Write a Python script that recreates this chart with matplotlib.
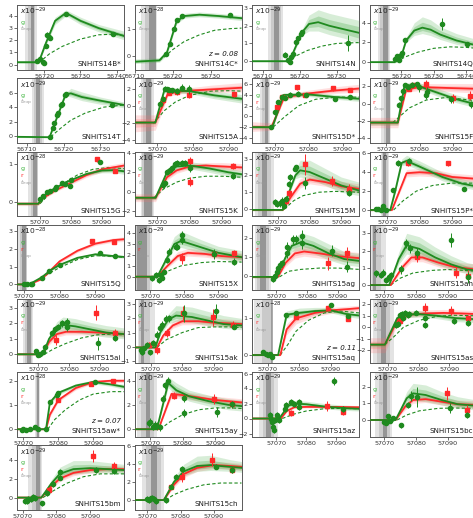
import matplotlib
matplotlib.use("Agg")
import matplotlib.pyplot as plt

########## DATA ##########
names = ["SNHiTS14B*", "SNHiTS14C*", "SNHiTS14N", "SNHiTS14Q",
         "SNHiTS14T", "SNHiTS15A", "SNHiTS15D*", "SNHiTS15F",
         "SNHiTS15G", "SNHiTS15K", "SNHiTS15M", "SNHiTS15P*",
         "SNHiTS15Q", "SNHiTS15X", "SNHiTS15ag", "SNHiTS15ah",
         "SNHiTS15ai", "SNHiTS15ak", "SNHiTS15aq", "SNHiTS15as",
         "SNHiTS15aw*", "SNHiTS15ay", "SNHiTS15az", "SNHiTS15bc",
         "SNHiTS15bm", "SNHiTS15ch"]
redshift = {1: "0.08", 18: "0.11", 20: "0.07"}
expo = [-29, -28, -29, -29, -29, -29, -29, -29, -28, -29, -29, -29, -28,
        -29, -29, -29, -29, -29, -28, -29, -28, -29, -29, -29, -29, -29]

xlims = [(56712.5, 56742), (56710, 56738), (56707, 56736.1), (56710.2, 56743.2),
         (56707.3, 56736.5), (57063.7, 57093.5), (57063.3, 57094.7), (57065, 57097.1),
         (57062.6, 57097.1), (57063, 57096), (57061.8, 57095.6), (57064.6, 57097.5),
         (57068.1, 57098), (57065.3, 57096.8), (57062.1, 57096.8), (57065.3, 57099),
         (57063.1, 57097.8), (57064.9, 57098.7), (57065, 57099), (57064, 57098.8),
         (57068.2, 57098.8), (57065.1, 57098.1), (57061.9, 57097.6), (57065.3, 57099),
         (57068.3, 57100), (57066.2, 57098.3)]
ylims = [(-0.4, 4.9), (-0.49, 1.91), (-0.47, 3.17), (-0.75, 5.8),
         (-0.94, 7.97), (-4.3, 3.3), (-4.95, 7.1), (-4.55, 2.9),
         (-0.38, 1.31), (-2.5, 4.1), (-0.43, 3.4), (-0.67, 6.17),
         (-0.3, 3.34), (-1.2, 4.75), (-0.73, 2.7), (-0.27, 3.47),
         (-0.57, 3.59), (-1.16, 3.4), (-0.22, 1.54), (-3.1, 2.49),
         (-0.3, 2.36), (-0.6, 4.7), (-2.4, 6.2), (-0.99, 2.88),
         (-1.3, 5.5), (-1.1, 6.1)]
yticks = [[0, 1, 2, 3, 4], [0, 1], [0, 1, 2, 3], [0, 2, 4],
          [0, 2, 4, 6], [-4, -2, 0, 2], [-4, -2, 0, 2, 4, 6], [-4, -2, 0, 2],
          [0, 1], [-2, 0, 2, 4], [0, 1, 2, 3], [0, 2, 4, 6],
          [0, 1, 2, 3], [0, 1, 2, 3, 4], [0, 1, 2], [0, 1, 2, 3],
          [0, 1, 2, 3], [-1, 0, 1, 2, 3], [0, 1], [-2, -1, 0, 1, 2],
          [0, 1, 2], [0, 2, 4], [-2, 0, 2, 4, 6], [0, 1, 2],
          [0, 2, 4], [0, 2, 4, 6]]
xticks_14 = [56710, 56720, 56730, 56740]
xticks_15 = [57070, 57080, 57090]

# explosion-time shading: light band (lo, hi), dark band (lo, hi)
texp = [(56714.8, 56718, 56716.3, 56717.1), (56711.6, 56716, 56713.9, 56715.5),
        (56711.3, 56715.4, 56712.9, 56714.3), (56712.7, 56716.4, 56714.3, 56715.8),
        (56711.4, 56714.6, 56712.5, 56713.6), (57065.4, 57069, 57066.9, 57068.2),
        (57065.6, 57068.5, 57067.1, 57068), (57068.5, 57071.5, 57070, 57071),
        (57066.2, 57069.5, 57067.8, 57069.1), (57064.9, 57069, 57066, 57068.5),
        (57062.6, 57068.9, 57064.9, 57066.5), (57068, 57070.5, 57068.7, 57069.8),
        (57068.5, 57071, 57069.5, 57070.7), (57064.5, 57070.5, 57066, 57069),
        (57063, 57068.4, 57064.6, 57066.8), (57065.5, 57070.5, 57066.5, 57067.5),
        (57065.1, 57068.4, 57066.2, 57067.8), (57066, 57071.5, 57066.8, 57068),
        (57065.5, 57071, 57071, 57071.7), (57065, 57072, 57067.9, 57069.5),
        (57073.3, 57074.8, 57073.8, 57074.4), (57066, 57072, 57068.5, 57070),
        (57064.4, 57070.5, 57066.6, 57068.3), (57067, 57072.5, 57069.5, 57070.7),
        (57071.7, 57075.6, 57073.8, 57075.2), (57068.5, 57075, 57071, 57073)]

# g-band photometry
g_x = [[56718.1, 56718.9, 56719.6, 56720.0, 56720.4, 56720.7, 56721.3, 56721.6, 56726.1, 56739.1],
       [56718.2, 56719.3, 56720.3, 56721.2, 56722.5, 56735.1],
       [56716.1, 56716.8, 56717.3, 56717.7, 56718.2, 56719.1, 56719.4, 56720.2, 56720.5, 56733.0],
       [56718.2, 56718.8, 56719.3, 56719.8, 56720.3, 56721.0, 56732.7, 56740.3],
       [56716.2, 56717.1, 56717.5, 56718.2, 56718.4, 56719.3, 56719.5, 56720.4, 56720.6, 56733.3],
       [57070.9, 57071.6, 57072.1, 57072.8, 57073.4, 57074.2, 57075.6, 57076.9, 57079.0],
       [57068.8, 57070.0, 57071.0, 57072.0, 57073.0, 57074.4, 57076.9, 57079.1, 57087.6, 57092.1],
       [57073.8, 57074.3, 57075.0, 57075.5, 57076.5, 57077.7, 57079.3, 57079.7, 57082.0, 57082.3, 57089.5, 57095.5],
       [57070.0, 57071.1, 57072.2, 57073.2, 57074.8, 57075.2, 57077.0, 57078.1, 57079.7, 57079.9, 57089.4],
       [57071.7, 57072.3, 57073.1, 57073.8, 57074.6, 57075.6, 57076.1, 57077.7, 57078.7, 57080.2, 57093.5],
       [57069.2, 57069.7, 57070.8, 57071.3, 57071.8, 57072.4, 57073.4, 57073.9, 57075.5, 57075.8, 57078.5, 57092.3],
       [57066.7, 57067.2, 57068.2, 57068.7, 57069.7, 57071.8, 57073.3, 57076.6, 57093.8],
       [57070.0, 57070.9, 57071.9, 57072.3, 57075.1, 57077.0, 57080.1, 57091.4, 57095.6],
       [57070.5, 57071.5, 57072.5, 57073.0, 57073.5, 57074.0, 57074.9, 57075.4, 57077.4, 57077.9, 57079.3, 57079.3, 57088.6, 57094.5],
       [57069.0, 57069.6, 57070.1, 57070.6, 57071.2, 57071.7, 57073.6, 57073.6, 57075.5, 57076.3, 57078.4, 57078.4, 57087.9, 57092.8],
       [57067.4, 57069.0, 57069.5, 57070.6, 57071.4, 57072.2, 57075.3, 57076.9, 57078.0, 57080.4, 57091.1, 57096.4],
       [57069.3, 57070.0, 57070.6, 57071.6, 57072.2, 57074.3, 57075.4, 57076.5, 57077.6, 57079.2, 57079.2, 57089.5, 57094.9],
       [57066.9, 57067.4, 57068.0, 57069.0, 57069.8, 57070.9, 57072.1, 57073.0, 57073.7, 57074.9, 57075.8, 57080.5, 57090.8, 57096.3],
       [57068.5, 57069.6, 57070.1, 57070.6, 57071.2, 57075.9, 57079.1, 57090.2, 57095.5],
       [57072.7, 57073.2, 57073.8, 57074.6, 57074.8, 57075.4, 57076.5, 57077.0, 57079.2, 57081.9, 57081.9, 57091.4, 57095.9],
       [57069.5, 57070.0, 57070.9, 57071.9, 57073.3, 57074.3, 57076.5, 57077.6, 57079.5, 57080.0, 57090.5],
       [57069.5, 57070.0, 57070.8, 57071.5, 57072.0, 57073.1, 57073.8, 57074.6, 57075.5, 57080.3, 57080.3, 57090.6, 57095.3],
       [57068.0, 57068.3, 57068.5, 57068.9, 57069.1, 57069.7, 57070.2, 57070.8, 57073.0, 57073.2, 57075.0, 57075.8, 57077.7, 57077.7, 57089.4, 57092.4],
       [57070.0, 57070.5, 57071.0, 57071.6, 57072.6, 57075.3, 57077.4, 57078.4, 57080.3, 57090.8, 57096.0],
       [57070.7, 57071.2, 57071.7, 57072.5, 57073.0, 57073.5, 57075.6, 57077.1, 57079.1, 57080.9, 57081.1, 57091.7, 57096.9],
       [57069.8, 57070.5, 57071.0, 57071.5, 57072.0, 57072.5, 57075.5, 57077.0, 57078.5, 57080.5, 57090.5, 57095.5]]
g_y = [[0.3, 0.5, 0.2, 0.15, 1.56, 2.45, 2.3, 2.2, 4.2, 2.5],
       [0.07, 0.47, 1.0, 1.37, 1.51, 1.54],
       [0.36, 0.04, -0.02, 0.23, 0.42, 1.09, 1.31, 1.56, 1.62, 1.05],
       [0.34, 0.58, 0.17, 0.68, 0.92, 2.22, 3.86, 1.88],
       [-0.19, 1.17, 1.78, 2.91, 3.19, 4.32, 4.46, 5.63, 5.87, 4.3],
       [0.32, 0.93, 2.1, 2.0, 1.94, 1.89, 1.81, 2.2, 2.0],
       [-1.9, 0.77, 2.67, 3.63, 3.44, 4.08, 4.27, 3.95, 3.3, 3.63],
       [-0.16, 0.59, 1.45, 2.08, 1.96, 2.16, 2.2, 1.88, 0.98, 1.37, 0.51, -0.08],
       [0.07, 0.16, 0.25, 0.29, 0.34, 0.38, 0.49, 0.47, 0.41, 0.57, 1.04],
       [0.7, 0.88, 2.04, 2.28, 2.46, 2.81, 2.98, 2.92, 2.98, 2.46, 1.65],
       [0.4, 0.3, 0.34, 0.5, 0.2, 0.6, 1.49, 1.89, 2.39, 2.49, 1.55, 0.96],
       [0.1, 0.1, 0.0, 0.42, 0.0, 2.07, 5.0, 5.2, 2.19],
       [0.0, 0.02, 0.02, 0.02, 0.38, 0.75, 1.08, 1.75, 1.6],
       [-0.15, 0.16, -0.3, 0.16, -0.1, 0.46, 1.54, 2.31, 2.77, 2.77, 3.85, 3.38, 2.1, 1.4],
       [-0.18, 0.0, 0.23, 0.41, 0.59, 0.67, 1.2, 1.56, 1.95, 1.95, 2.13, 1.74, 1.35, 0.5],
       [0.68, 0.58, 0.72, 0.29, 0.44, 0.58, 0.91, 2.42, 2.13, 1.84, 2.61, 0.44],
       [0.21, -0.05, 0.0, 0.17, 0.49, 1.35, 1.6, 1.78, 1.99, 2.1, 1.78, 0.7, 1.07],
       [-0.23, -0.4, -0.12, 0.12, -0.4, 0.24, 0.83, 1.3, 1.54, 1.97, 2.01, 2.37, 2.53, 1.42],
       [0.07, 0.02, 0.0, 0.04, -0.04, 1.09, 1.15, 1.36, 1.07],
       [0.2, 0.29, 1.06, 1.14, 0.77, 1.28, 1.06, 1.14, 1.28, 0.77, 0.2, 0.57, 0.4],
       [-0.03, 0.0, -0.03, 0.0, 0.08, 0.0, 0.0, 1.14, 1.41, 1.5, 1.96],
       [0.48, 0.62, 0.2, 0.34, 0.26, 0.14, 2.5, 3.6, 4.0, 2.54, 1.34, 1.4, 2.05],
       [0.44, 0.0, -0.44, -1.11, -1.56, -0.22, 0.44, -0.22, 1.33, 1.78, 2.22, 2.0, 2.22, 1.56, 5.0, 1.33],
       [-0.1, -0.16, 0.24, -0.04, 0.1, -0.3, 0.9, 1.44, 1.36, 0.7, 0.3],
       [-0.33, -0.36, -0.15, -0.18, 0.11, -0.07, -0.61, 0.47, 1.38, 2.1, 2.72, 2.9, 2.83],
       [0.1, 0.0, 0.19, 0.26, 0.1, -0.12, 0.0, 1.5, 2.62, 3.48, 3.74, 3.37]]
g_err = [[0.15, 0.2, 0.15, 0.1, 0.15, 0.2, 0.2, 0.15, 0.1, 0.1],
         [0.03, 0.04, 0.04, 0.04, 0.03, 0.03],
         [0.15, 0.08, 0.08, 0.08, 0.1, 0.1, 0.1, 0.08, 0.08, 0.45],
         [0.2, 0.2, 0.15, 0.2, 0.2, 0.25, 0.6, 0.15],
         [0.15, 0.2, 0.2, 0.2, 0.2, 0.2, 0.2, 0.2, 0.2, 0.2],
         [0.3, 0.3, 0.3, 0.3, 0.3, 0.3, 0.4, 0.4, 0.5],
         [0.3, 0.4, 0.4, 0.4, 0.4, 0.4, 0.4, 0.4, 0.4, 0.3],
         [0.3, 0.3, 0.3, 0.3, 0.3, 0.3, 0.3, 0.5, 0.5, 0.5, 0.4, 0.4],
         [0.03, 0.03, 0.03, 0.03, 0.03, 0.03, 0.03, 0.03, 0.04, 0.04, 0.06],
         [0.3, 0.3, 0.3, 0.3, 0.3, 0.3, 0.3, 0.3, 0.3, 0.4, 0.3],
         [0.2, 0.2, 0.2, 0.2, 0.2, 0.2, 0.2, 0.2, 0.15, 0.15, 0.35, 0.2],
         [0.2, 0.2, 0.2, 0.2, 0.2, 0.2, 0.3, 0.3, 0.2],
         [0.04, 0.04, 0.04, 0.04, 0.04, 0.04, 0.04, 0.04, 0.04],
         [0.25, 0.25, 0.25, 0.25, 0.25, 0.25, 0.3, 0.3, 0.3, 0.3, 0.4, 0.4, 0.5, 0.3],
         [0.15, 0.15, 0.2, 0.2, 0.2, 0.2, 0.25, 0.25, 0.25, 0.25, 0.3, 0.3, 0.3, 0.3],
         [0.2, 0.2, 0.2, 0.2, 0.2, 0.2, 0.25, 0.25, 0.25, 0.3, 0.4, 0.3],
         [0.15, 0.15, 0.15, 0.15, 0.2, 0.2, 0.2, 0.2, 0.2, 0.25, 0.25, 0.4, 0.2],
         [0.2, 0.2, 0.2, 0.2, 0.2, 0.2, 0.25, 0.25, 0.25, 0.25, 0.25, 0.6, 0.5, 0.2],
         [0.03, 0.03, 0.03, 0.03, 0.03, 0.03, 0.03, 0.03, 0.03],
         [0.25, 0.25, 0.25, 0.25, 0.25, 0.25, 0.25, 0.25, 0.25, 0.25, 0.25, 0.25, 0.25],
         [0.04, 0.04, 0.04, 0.04, 0.04, 0.04, 0.04, 0.04, 0.04, 0.04, 0.04],
         [0.3, 0.3, 0.3, 0.3, 0.3, 0.3, 0.3, 0.3, 0.3, 0.3, 0.3, 0.4, 0.3],
         [0.4, 0.4, 0.4, 0.4, 0.4, 0.4, 0.4, 0.4, 0.4, 0.4, 0.4, 0.4, 0.4, 0.4, 0.5, 0.4],
         [0.15, 0.15, 0.15, 0.15, 0.15, 0.15, 0.2, 0.3, 0.6, 0.3, 0.2],
         [0.3, 0.3, 0.3, 0.3, 0.3, 0.3, 0.3, 0.3, 0.3, 0.3, 0.3, 0.3, 0.3],
         [0.3, 0.3, 0.3, 0.3, 0.3, 0.3, 0.3, 0.3, 0.3, 0.3, 0.3, 0.3]]

# r-band photometry (the 2014 objects only have g)
r_x = [[], [], [], [], [],
       [57071.6, 57073.4, 57075.6, 57079.0, 57091.3],
       [57070.5, 57072.0, 57076.4, 57078.8, 57087.0, 57092.1],
       [57076.7, 57078.0, 57082.0, 57090.0, 57095.0],
       [57088.3, 57094.2],
       [57080.2, 57080.2, 57093.5],
       [57072.4, 57073.4, 57078.5, 57087.1, 57092.3],
       [57076.4, 57088.7],
       [57089.1, 57095.1],
       [57079.3, 57088.6, 57094.5],
       [57086.8, 57092.8],
       [57080.4, 57092.7, 57096.4],
       [57075.9, 57088.7, 57094.9],
       [57069.5, 57071.9, 57075.1, 57080.3, 57089.8, 57096.0],
       [57079.1, 57089.1, 57095.5],
       [57073.8, 57081.9, 57090.6, 57095.9],
       [57080.0, 57089.5, 57095.7],
       [57077.2, 57089.6, 57095.3],
       [57075.0, 57086.9, 57092.4],
       [57089.8, 57096.0],
       [57077.9, 57090.7, 57096.9],
       [57077.0, 57080.5, 57089.5, 57095.5]]
r_y = [[], [], [], [], [],
       [0.8, 1.6, 1.7, 1.33, 1.41],
       [1.72, 3.63, 5.42, 3.95, 5.23, 4.9],
       [1.7, 2.1, 2.2, 0.6, 0.9],
       [1.11, 0.8],
       [3.16, 1.06, 2.63],
       [0.5, 0.94, 2.65, 1.69, 1.19],
       [4.94, 4.94],
       [2.45, 2.4],
       [1.69, 2.1, 2.2],
       [0.67, 1.2],
       [1.65, 0.72, 0.55],
       [0.92, 2.68, 1.35],
       [0.12, -0.23, 0.95, 2.37, 2.08, 1.54],
       [1.04, 1.27, 0.98],
       [0.57, 1.71, 1.43, 0.77],
       [1.2, 1.86, 1.99],
       [2.76, 2.48, 2.05],
       [0.75, 1.64, 0.9],
       [1.6, 0.6],
       [0.83, 4.38, 3.3],
       [1.5, 2.62, 4.5, 3.3]]
r_err = [[], [], [], [], [],
         [0.3, 0.3, 0.3, 0.3, 0.3],
         [0.4, 0.4, 0.4, 0.4, 0.4, 0.4],
         [0.3, 0.3, 0.5, 0.5, 0.5],
         [0.07, 0.04],
         [0.4, 0.5, 0.3],
         [0.2, 0.2, 0.6, 0.3, 0.3],
         [0.3, 0.3],
         [0.06, 0.06],
         [0.5, 0.4, 0.3],
         [0.35, 0.35],
         [0.3, 0.3, 0.3],
         [0.3, 0.5, 0.3],
         [0.2, 0.3, 0.3, 0.5, 0.6, 0.3],
         [0.03, 0.04, 0.03],
         [0.3, 0.4, 0.4, 0.3],
         [0.05, 0.05, 0.05],
         [0.3, 0.4, 0.3],
         [0.4, 0.7, 0.4],
         [0.4, 0.3],
         [0.3, 0.6, 0.4],
         [0.3, 0.6, 0.7, 0.3]]

# model light curves: (mjd, best, fan low, fan high)
g_fit = [
    [(56712.5, 0.2, 0.12, 0.3), (56718.5, 0.2, 0.1, 0.35), (56720.5, 1.8, 1.6, 2.0), (56723, 3.6, 3.3, 3.9), (56726, 4.25, 4.0, 4.5), (56730, 3.6, 3.3, 3.9), (56735, 3.0, 2.7, 3.3), (56742, 2.35, 2.05, 2.75)],
    [(56710, -0.2, -0.27, -0.1), (56716.5, -0.15, -0.22, -0.05), (56718.5, 0.15, 0.05, 0.25), (56721, 1.3, 1.2, 1.4), (56723, 1.5, 1.42, 1.6), (56727, 1.55, 1.47, 1.65), (56732, 1.5, 1.42, 1.6), (56738, 1.42, 1.33, 1.52)],
    [(56707, 0.0, -0.05, 0.05), (56716.5, 0.0, -0.05, 0.05), (56717.5, 0.15, 0.05, 0.25), (56720.5, 1.6, 1.45, 1.75), (56722.5, 2.1, 1.7, 2.6), (56725, 2.2, 1.7, 2.9), (56728, 2.0, 1.5, 2.7), (56732, 1.8, 1.3, 2.5), (56736.1, 1.6, 1.0, 2.3)],
    [(56710.2, 0.0, -0.05, 0.05), (56718, 0.0, -0.1, 0.1), (56720.3, 0.9, 0.8, 1.0), (56721.5, 2.2, 2.0, 2.5), (56724, 3.2, 2.7, 4.0), (56726.5, 3.5, 2.9, 4.6), (56729, 3.3, 2.7, 4.3), (56732, 2.8, 2.3, 3.6), (56737, 2.2, 1.8, 2.9), (56743.2, 1.7, 1.4, 2.3)],
    [(56707.3, -0.1, -0.2, 0.0), (56716.2, -0.15, -0.25, -0.05), (56720.6, 5.8, 5.6, 6.0), (56722, 5.9, 5.4, 6.6), (56725, 5.4, 4.9, 6.1), (56730, 4.9, 4.4, 5.4), (56736.5, 4.3, 3.9, 4.7)],
    [(57063.7, -1.9, -2.1, -1.7), (57069.5, -1.9, -2.1, -1.7), (57072, 1.9, 1.6, 2.2), (57079, 1.8, 1.5, 2.2), (57086, 1.3, 0.9, 1.8), (57093.5, 0.9, 0.4, 1.4)],
    [(57063.3, -2, -2.3, -1.7), (57069.3, -2, -2.3, -1.7), (57072.5, 4.0, 3.6, 4.4), (57080, 4.1, 3.7, 4.6), (57088, 3.6, 3.2, 4.1), (57094.7, 3.3, 2.8, 3.8)],
    [(57065, -2.2, -2.5, -1.9), (57073.5, -2.2, -2.5, -1.9), (57075.5, 2.1, 1.8, 2.4), (57079, 2.1, 1.8, 2.5), (57085, 1.3, 0.9, 1.8), (57091, 0.5, 0.1, 1.0), (57097.1, -0.1, -0.5, 0.4)],
    [(57062.6, -0.05, -0.08, -0.02), (57069.5, -0.05, -0.08, -0.02), (57071, 0.15, 0.12, 0.18), (57075, 0.37, 0.34, 0.4), (57080, 0.57, 0.54, 0.6), (57085, 0.73, 0.69, 0.78), (57090, 0.82, 0.76, 0.88), (57094, 0.83, 0.76, 0.92), (57097.1, 0.8, 0.72, 0.9)],
    [(57063, -0.6, -0.8, -0.4), (57069.5, -0.6, -0.8, -0.4), (57073, 2.0, 1.7, 2.3), (57076, 2.6, 2.3, 2.95), (57080, 2.7, 2.35, 3.1), (57086, 2.4, 2.0, 2.8), (57092, 2.0, 1.6, 2.4), (57096, 1.8, 1.4, 2.2)],
    [(57061.8, -0.05, -0.1, 0.0), (57071.5, -0.05, -0.1, 0.0), (57073.5, 1.0, 0.85, 1.2), (57075.5, 2.0, 1.8, 2.3), (57077, 2.3, 1.9, 2.9), (57080, 2.2, 1.8, 2.9), (57085, 1.8, 1.4, 2.4), (57090, 1.4, 1.0, 1.9), (57095.6, 1.1, 0.8, 1.6)],
    [(57064.6, 0.0, -0.1, 0.1), (57071, 0.0, -0.1, 0.1), (57072.5, 2.0, 1.8, 2.3), (57074.5, 5.0, 4.7, 5.4), (57076, 5.2, 4.8, 5.8), (57080, 4.6, 4.2, 5.2), (57087, 3.5, 3.1, 4.0), (57093, 2.8, 2.4, 3.3), (57097.5, 2.5, 2.1, 3.0)],
    [(57068.1, 0, -0.02, 0.02), (57071.5, 0, -0.02, 0.02), (57075, 0.4, 0.36, 0.44), (57077.5, 0.8, 0.75, 0.85), (57080, 1.1, 1.05, 1.15), (57085, 1.5, 1.45, 1.56), (57090, 1.7, 1.63, 1.77), (57095, 1.6, 1.53, 1.68), (57098, 1.55, 1.47, 1.63)],
    [(57065.3, 0, -0.1, 0.1), (57072, 0, -0.1, 0.1), (57074.5, 1.5, 1.2, 1.9), (57077, 3.0, 2.6, 3.7), (57079, 3.3, 2.7, 4.2), (57085, 2.7, 2.2, 3.4), (57090, 2.2, 1.7, 2.8), (57096.8, 1.8, 1.3, 2.4)],
    [(57062.1, -0.05, -0.1, 0.0), (57070, -0.05, -0.1, 0.0), (57073, 1.0, 0.8, 1.2), (57075, 1.6, 1.3, 1.95), (57078, 1.8, 1.4, 2.3), (57082, 1.6, 1.2, 2.1), (57087, 1.2, 0.85, 1.7), (57092, 0.9, 0.6, 1.3), (57096.8, 0.8, 0.5, 1.2)],
    [(57065.3, 0, -0.03, 0.03), (57071.5, 0, -0.03, 0.03), (57074.5, 1.5, 1.2, 1.9), (57077, 2.3, 1.8, 3.0), (57081, 2.1, 1.6, 2.8), (57086, 1.6, 1.2, 2.2), (57091, 1.2, 0.9, 1.7), (57096, 0.9, 0.65, 1.3), (57099, 0.85, 0.6, 1.2)],
    [(57063.1, 0, -0.05, 0.05), (57071.5, 0, -0.05, 0.05), (57073.5, 1.0, 0.8, 1.2), (57076, 1.7, 1.4, 2.1), (57078, 1.9, 1.5, 2.4), (57082, 1.8, 1.4, 2.3), (57087, 1.6, 1.25, 2.05), (57092, 1.4, 1.1, 1.85), (57097.8, 1.3, 1.0, 1.7)],
    [(57064.9, -0.05, -0.1, 0.0), (57071.5, -0.05, -0.1, 0.0), (57073, 1.0, 0.8, 1.2), (57075.5, 1.9, 1.6, 2.3), (57078, 2.2, 1.8, 2.9), (57083, 2.1, 1.7, 2.8), (57088, 1.85, 1.5, 2.5), (57093, 1.6, 1.3, 2.2), (57098.7, 1.5, 1.2, 2.0)],
    [(57065, 0, -0.02, 0.02), (57073.3, 0, -0.02, 0.02), (57076, 1.1, 1.0, 1.2), (57080, 1.15, 1.07, 1.28), (57085, 1.2, 1.12, 1.3), (57090, 1.22, 1.15, 1.3), (57095, 1.12, 1.05, 1.2), (57099, 1.08, 1.0, 1.16)],
    [(57064, -1.5, -1.7, -1.3), (57069, -1.5, -1.7, -1.3), (57073, 0.8, 0.5, 1.1), (57076, 1.1, 0.85, 1.4), (57080, 1.15, 0.9, 1.45), (57086, 1.0, 0.75, 1.3), (57092, 0.8, 0.5, 1.1), (57098.8, 0.7, 0.4, 1.0)],
    [(57068.2, 0, -0.02, 0.02), (57076.5, 0, -0.02, 0.02), (57077.6, 1.1, 1.0, 1.2), (57080, 1.5, 1.42, 1.58), (57085, 1.8, 1.72, 1.88), (57090, 1.95, 1.87, 2.03), (57095, 1.85, 1.77, 1.93), (57098.8, 1.75, 1.65, 1.85)],
    [(57065.1, 0, -0.05, 0.05), (57072, 0, -0.05, 0.05), (57075.5, 3.8, 3.4, 4.3), (57078, 3.2, 2.8, 3.8), (57082, 2.7, 2.3, 3.2), (57088, 2.3, 1.9, 2.8), (57094, 2.0, 1.6, 2.5), (57098.1, 1.9, 1.5, 2.4)],
    [(57061.9, 0, -0.1, 0.1), (57071, 0, -0.1, 0.1), (57074, 1.7, 1.4, 2.0), (57076, 2.0, 1.7, 2.4), (57080, 1.9, 1.6, 2.3), (57086, 1.6, 1.3, 2.0), (57092, 1.4, 1.1, 1.8), (57097.6, 1.3, 1.0, 1.7)],
    [(57065.3, 0, -0.03, 0.03), (57073.5, 0, -0.03, 0.03), (57077, 1.3, 1.0, 1.7), (57079, 1.6, 1.2, 2.2), (57083, 1.5, 1.1, 2.1), (57088, 1.2, 0.9, 1.7), (57093, 0.95, 0.7, 1.4), (57099, 0.85, 0.6, 1.2)],
    [(57068.3, 0, -0.05, 0.05), (57075.5, 0, -0.05, 0.05), (57078.5, 1.5, 1.2, 1.9), (57081, 2.5, 2.1, 3.2), (57085, 3.0, 2.5, 3.9), (57090, 3.1, 2.6, 3.9), (57095, 3.0, 2.6, 3.7), (57100, 2.9, 2.5, 3.5)],
    [(57066.2, 0, -0.05, 0.05), (57075, 0, -0.05, 0.05), (57078, 2.0, 1.7, 2.5), (57081, 3.2, 2.7, 4.0), (57085, 3.8, 3.2, 4.9), (57089, 3.9, 3.3, 5.0), (57095, 3.7, 3.2, 4.5), (57098.3, 3.6, 3.1, 4.3)]]

r_fit = [None, None, None, None, None,
    [(57063.7, -1.9, -3.0, -1.0), (57069.5, -1.9, -2.8, -1.0), (57073, 1.5, 1.2, 1.9), (57077, 1.8, 1.5, 2.1), (57085, 2.0, 1.6, 2.5), (57093.5, 2.2, 1.7, 2.8)],
    [(57063.3, -2, -2.8, -1.0), (57069, -2, -2.6, -1.2), (57072.5, 3.2, 2.8, 3.7), (57075, 3.8, 3.4, 4.3), (57080, 4.3, 3.9, 4.9), (57087, 4.8, 4.3, 5.5), (57094.7, 5.2, 4.5, 6.0)],
    [(57065, -2.2, -2.8, -1.6), (57073.5, -2.2, -2.8, -1.6), (57076, 1.6, 1.3, 2.0), (57080, 1.9, 1.5, 2.3), (57088, 1.8, 1.4, 2.3), (57097.1, 1.7, 1.2, 2.3)],
    [(57062.6, -0.05, -0.1, 0.0), (57069.5, -0.05, -0.1, 0.0), (57071, 0.1, 0.06, 0.14), (57075, 0.3, 0.26, 0.34), (57080, 0.5, 0.45, 0.55), (57085, 0.7, 0.64, 0.77), (57090, 0.85, 0.78, 0.93), (57097.1, 0.95, 0.87, 1.03)],
    [(57063, -0.6, -1.0, -0.2), (57069.5, -0.6, -1.0, -0.2), (57073, 1.5, 1.2, 1.8), (57076, 2.2, 1.9, 2.5), (57080, 2.6, 2.3, 2.9), (57085, 2.7, 2.4, 3.0), (57090, 2.6, 2.3, 3.0), (57096, 2.5, 2.1, 2.9)],
    [(57061.8, -0.05, -0.1, 0.0), (57071.5, -0.05, -0.1, 0.0), (57074, 0.7, 0.5, 0.9), (57077, 1.5, 1.25, 1.8), (57080, 1.75, 1.5, 2.05), (57085, 1.6, 1.35, 1.9), (57090, 1.35, 1.1, 1.65), (57095.6, 1.2, 0.95, 1.5)],
    [(57064.6, 0.0, -0.1, 0.1), (57071.5, 0.0, -0.1, 0.1), (57076, 3.9, 3.5, 4.3), (57080, 4.0, 3.6, 4.4), (57085, 3.9, 3.5, 4.3), (57090, 3.5, 3.1, 3.9), (57097.5, 3.3, 2.9, 3.7)],
    [(57068.1, 0, -0.02, 0.02), (57071.5, 0, -0.02, 0.02), (57075, 0.3, 0.25, 0.35), (57078, 0.9, 0.82, 0.98), (57080, 1.3, 1.2, 1.4), (57085, 1.9, 1.8, 2.0), (57090, 2.3, 2.2, 2.42), (57095, 2.5, 2.38, 2.62), (57098, 2.55, 2.42, 2.68)],
    [(57065.3, 0, -0.1, 0.1), (57072, 0, -0.1, 0.1), (57075, 1.0, 0.8, 1.3), (57078, 1.9, 1.6, 2.3), (57081, 2.2, 1.9, 2.6), (57086, 2.1, 1.8, 2.5), (57091, 1.9, 1.6, 2.3), (57096.8, 1.8, 1.5, 2.2)],
    [(57062.1, -0.05, -0.1, 0.0), (57070.5, -0.05, -0.1, 0.0), (57073, 0.7, 0.5, 0.9), (57076, 1.2, 0.95, 1.5), (57079, 1.3, 1.05, 1.6), (57084, 1.2, 0.95, 1.5), (57090, 1.05, 0.8, 1.35), (57096.8, 0.95, 0.7, 1.25)],
    [(57065.3, 0, -0.03, 0.03), (57072, 0, -0.03, 0.03), (57075.5, 1.0, 0.8, 1.25), (57078.5, 1.6, 1.35, 1.9), (57082, 1.6, 1.35, 1.9), (57087, 1.3, 1.05, 1.6), (57092, 1.05, 0.8, 1.35), (57099, 0.9, 0.65, 1.2)],
    [(57063.1, 0, -0.05, 0.05), (57071.5, 0, -0.05, 0.05), (57073.5, 0.8, 0.6, 1.0), (57076, 1.3, 1.1, 1.55), (57079, 1.45, 1.25, 1.7), (57084, 1.45, 1.25, 1.7), (57090, 1.4, 1.2, 1.65), (57097.8, 1.3, 1.1, 1.55)],
    [(57064.9, -0.05, -0.1, 0.0), (57072, -0.05, -0.1, 0.0), (57074, 0.8, 0.6, 1.0), (57077, 1.5, 1.3, 1.8), (57080, 1.8, 1.55, 2.1), (57085, 1.8, 1.55, 2.1), (57090, 1.7, 1.45, 2.0), (57098.7, 1.6, 1.35, 1.9)],
    [(57065, 0, -0.02, 0.02), (57074, 0, -0.02, 0.02), (57076, 0.7, 0.55, 0.85), (57079, 1.0, 0.85, 1.12), (57085, 1.15, 1.05, 1.25), (57090, 1.22, 1.13, 1.3), (57095, 1.25, 1.17, 1.33), (57099, 1.28, 1.2, 1.36)],
    [(57064, -1.5, -2.2, -0.9), (57069, -1.5, -2.2, -0.9), (57073.5, 0.8, 0.5, 1.1), (57077, 1.1, 0.85, 1.4), (57082, 1.2, 0.95, 1.5), (57088, 1.25, 1.0, 1.55), (57094, 1.2, 0.95, 1.5), (57098.8, 1.15, 0.9, 1.45)],
    [(57068.2, 0, -0.02, 0.02), (57076.5, 0, -0.02, 0.02), (57077.6, 0.6, 0.5, 0.7), (57080, 1.2, 1.12, 1.28), (57085, 1.7, 1.62, 1.78), (57090, 1.95, 1.88, 2.02), (57095, 2.0, 1.93, 2.07), (57098.8, 2.0, 1.92, 2.08)],
    [(57065.1, 0, -0.05, 0.05), (57072.5, 0, -0.05, 0.05), (57076.5, 2.9, 2.6, 3.2), (57080, 2.8, 2.5, 3.1), (57085, 2.6, 2.3, 2.9), (57090, 2.4, 2.1, 2.7), (57098.1, 2.2, 1.9, 2.5)],
    [(57061.9, 0, -0.1, 0.1), (57071.5, 0, -0.1, 0.1), (57073.5, 1.0, 0.85, 1.15), (57076, 1.5, 1.35, 1.65), (57080, 1.55, 1.4, 1.7), (57090, 1.55, 1.4, 1.7), (57097.6, 1.5, 1.35, 1.65)],
    [(57065.3, 0, -0.03, 0.03), (57073.5, 0, -0.03, 0.03), (57076.5, 0.8, 0.6, 1.0), (57079, 1.2, 1.0, 1.45), (57083, 1.25, 1.05, 1.5), (57088, 1.1, 0.9, 1.35), (57093, 0.95, 0.75, 1.2), (57099, 0.9, 0.7, 1.15)],
    [(57068.3, 0, -0.05, 0.05), (57075.5, 0, -0.05, 0.05), (57078.5, 1.2, 0.9, 1.5), (57081, 2.0, 1.7, 2.4), (57085, 2.6, 2.3, 3.0), (57090, 2.9, 2.6, 3.3), (57095, 3.0, 2.7, 3.35), (57100, 3.0, 2.7, 3.35)],
    [(57066.2, 0, -0.05, 0.05), (57075, 0, -0.05, 0.05), (57078, 1.7, 1.4, 2.0), (57081, 2.9, 2.5, 3.3), (57085, 3.6, 3.2, 4.0), (57090, 3.9, 3.5, 4.3), (57095, 3.8, 3.4, 4.2), (57098.3, 3.7, 3.3, 4.1)]]

# dashed comparison curve (green)
dash = [
    [(56718.5, 0.15), (56721.5, 0.9), (56725, 1.5), (56730, 2.1), (56735, 2.45), (56739, 2.5), (56742, 2.4)],
    [(56716.5, -0.15), (56718, 0.0), (56720, 0.25), (56723, 0.55), (56727, 0.8), (56731, 0.97), (56735, 1.03), (56738, 1.05)],
    [(56716.5, 0.0), (56719, 0.3), (56722, 0.6), (56726, 0.85), (56730, 1.0), (56736, 1.05)],
    [(56718.5, 0.0), (56721, 0.5), (56725, 1.0), (56730, 1.4), (56735, 1.55), (56740, 1.5), (56743.2, 1.4)],
    [(56716.5, -0.1), (56719, 1.0), (56722, 2.2), (56726, 3.2), (56731, 4.0), (56736.5, 4.3)],
    [(57069, -2.0), (57072, -0.5), (57075, 0.5), (57079, 1.3), (57085, 1.8), (57090, 1.85), (57093.5, 1.8)],
    [(57069.5, -2), (57073, 0), (57077, 2), (57082, 3.2), (57088, 3.6), (57094.7, 3.6)],
    [(57072, -2.2), (57077, -0.5), (57082, 0.4), (57088, 0.7), (57093, 0.5), (57097, 0.3)],
    [(57070, -0.05), (57073, 0.2), (57077, 0.45), (57082, 0.7), (57087, 0.85), (57092, 0.9), (57097.1, 0.87)],
    [(57069, -0.6), (57072, 0.3), (57076, 1.0), (57080, 1.4), (57085, 1.6), (57090, 1.6), (57096, 1.5)],
    [(57072, 0.0), (57075, 0.5), (57078, 0.8), (57083, 1.0), (57088, 1.05), (57095.6, 1.0)],
    [(57072, 0.0), (57075, 1.0), (57079, 2.0), (57084, 2.6), (57090, 2.85), (57097.5, 2.85)],
    [(57072, 0), (57075, 0.38), (57080, 0.95), (57085, 1.4), (57090, 1.62), (57095, 1.58), (57098, 1.52)],
    [(57072.5, 0), (57075, 0.5), (57079, 1.0), (57085, 1.3), (57090, 1.4), (57096.8, 1.35)],
    [(57071, -0.05), (57074, 0.25), (57078, 0.35), (57084, 0.42), (57090, 0.42), (57096.8, 0.35)],
    [(57072, 0), (57075, 0.4), (57079, 0.7), (57085, 0.85), (57090, 0.9), (57095, 0.85), (57099, 0.8)],
    [(57072, 0), (57075, 0.35), (57079, 0.7), (57084, 1.05), (57089, 1.25), (57094, 1.3), (57097.8, 1.25)],
    [(57072, -0.05), (57075, 0.5), (57080, 1.0), (57085, 1.35), (57090, 1.4), (57095, 1.4), (57098.7, 1.35)],
    [(57074, 0), (57076.5, 0.3), (57079, 0.65), (57083, 0.95), (57088, 1.15), (57093, 1.2), (57099, 1.15)],
    [(57069, -1.5), (57072, -0.8), (57075, 0), (57080, 0.6), (57086, 0.95), (57091, 1.05), (57098.8, 1.0)],
    [(57077, 0), (57079, 0.4), (57082, 0.8), (57086, 1.2), (57090, 1.45), (57095, 1.55), (57098.8, 1.55)],
    [(57073, 0), (57076, 0.6), (57080, 1.2), (57085, 1.6), (57090, 1.75), (57095, 1.75), (57098.1, 1.7)],
    [(57072, 0), (57076, 0.6), (57080, 1.0), (57086, 1.3), (57092, 1.35), (57097.6, 1.3)],
    [(57074, 0), (57077, 0.3), (57081, 0.55), (57087, 0.7), (57092, 0.72), (57099, 0.7)],
    [(57076, 0), (57079, 0.7), (57083, 1.5), (57088, 2.2), (57093, 2.5), (57100, 2.5)],
    [(57075.5, 0), (57078, 0.6), (57082, 1.2), (57087, 1.7), (57092, 1.9), (57098.3, 1.9)]]

########## STYLE ##########
g_col = "#1f8a1f"
r_col = "#ff2a2a"
g_fan = "#4cae4c"
r_fan = "#ff7070"
fs = 4.6

W, H = 473.0, 518.0
fig = plt.figure(figsize=(W / 100, H / 100), dpi=100)


def draw_model(ax, model, fan_col, line_col):
    xs = [m[0] for m in model]
    best = [m[1] for m in model]
    lo = [m[2] for m in model]
    hi = [m[3] for m in model]
    ax.fill_between(xs, lo, hi, color=fan_col, alpha=0.22, lw=0, zorder=2)
    mid_lo = [(a + b) / 2 for a, b in zip(lo, best)]
    mid_hi = [(a + b) / 2 for a, b in zip(hi, best)]
    ax.fill_between(xs, mid_lo, mid_hi, color=fan_col, alpha=0.3, lw=0, zorder=2)
    ax.plot(xs, best, color=line_col, lw=1.3, zorder=4)


for i, name in enumerate(names):
    row, col = divmod(i, 4)
    left = 17 + 117.5 * col
    top = 5 + 73.4 * row
    ax = fig.add_axes([left / W, 1 - (top + 64.5) / H, 107 / W, 64.5 / H])

    # explosion time shading
    lo, hi, dlo, dhi = texp[i]
    ax.axvspan(lo, hi, color="0.82", alpha=0.6, lw=0, zorder=1)
    ax.axvspan((lo + dlo) / 2, (hi + dhi) / 2, color="0.7", alpha=0.5, lw=0, zorder=1)
    ax.axvspan(dlo, dhi, color="0.45", alpha=0.6, lw=0, zorder=1)

    # models
    if r_fit[i] is not None:
        draw_model(ax, r_fit[i], r_fan, r_col)
    draw_model(ax, g_fit[i], g_fan, g_col)
    ax.plot([d[0] for d in dash[i]], [d[1] for d in dash[i]], color=g_col,
            lw=0.8, ls=(0, (3, 2)), zorder=3)

    # data
    if r_x[i]:
        ax.errorbar(r_x[i], r_y[i], yerr=r_err[i], fmt="s", color=r_col, ms=3,
                    elinewidth=0.7, capsize=0, zorder=5)
    ax.errorbar(g_x[i], g_y[i], yerr=g_err[i], fmt="o", color=g_col, ms=3,
                elinewidth=0.7, capsize=0, zorder=6)

    ax.set_xlim(*xlims[i])
    ax.set_ylim(*ylims[i])
    ax.set_yticks(yticks[i])
    ax.set_xticks(xticks_14 if i < 5 else xticks_15)
    ax.set_xlim(*xlims[i])
    ax.tick_params(labelsize=fs, length=2, width=0.5, pad=1, colors="0.2")
    for sp in ax.spines.values():
        sp.set_color("0.35")
        sp.set_linewidth(0.7)

    ax.text(0.03, 0.985, r"$x10^{%d}$" % expo[i], transform=ax.transAxes,
            fontsize=5.4, va="top", ha="left", color="0.15", zorder=8)
    ax.text(0.03, 0.735, "g", transform=ax.transAxes, fontsize=4.6,
            color="#3cb43c", va="center", zorder=8)
    if r_x[i]:
        ax.text(0.03, 0.625, "r", transform=ax.transAxes, fontsize=4.6,
                color=r_col, va="center", zorder=8)
        ax.text(0.03, 0.505, r"$t_{\rm exp}$", transform=ax.transAxes,
                fontsize=4.6, color="0.6", va="center", zorder=8)
    else:
        ax.text(0.03, 0.615, r"$t_{\rm exp}$", transform=ax.transAxes,
                fontsize=4.6, color="0.6", va="center", zorder=8)
    ax.text(0.97, 0.04, name, transform=ax.transAxes, fontsize=5.1,
            ha="right", va="bottom", color="0.1", zorder=8)
    if i in redshift:
        ax.text(0.97, 0.19, "z = " + redshift[i], transform=ax.transAxes,
                fontsize=5.1, ha="right", va="bottom", color="0.1",
                style="italic", zorder=8)

fig.savefig("out.png", dpi=100)
